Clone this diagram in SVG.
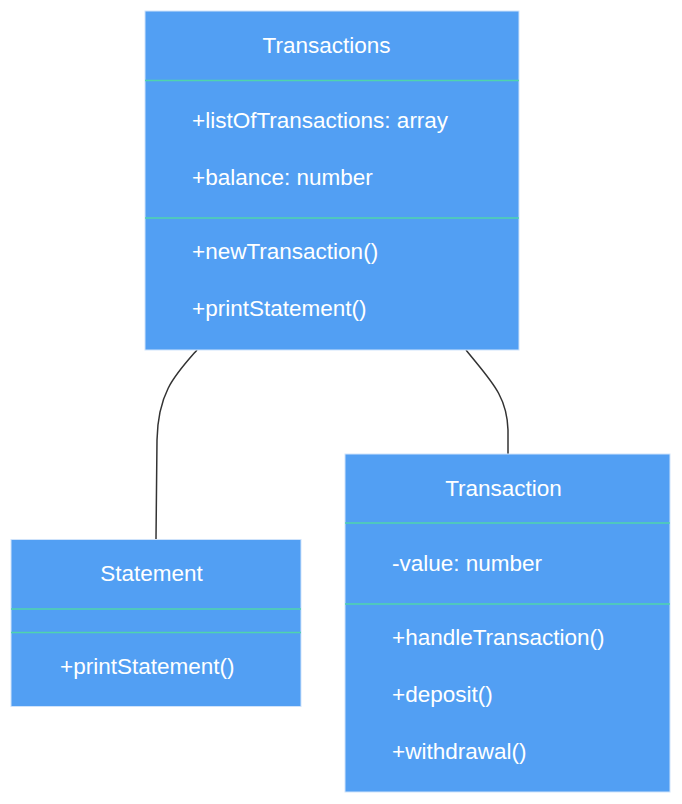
<svg xmlns="http://www.w3.org/2000/svg" width="682" height="804" viewBox="0 0 682 804">
<style>
.box{fill:#529ff3;stroke:#cfe3fb;stroke-width:1}
.div{stroke:#4fd4ad;stroke-width:1.5}
.t{font-family:"Liberation Sans",Arial,sans-serif;font-size:22.5px;fill:#ffffff}
.c{text-anchor:middle}
.edge{fill:none;stroke:#333333;stroke-width:1.5}
</style>
<rect width="682" height="804" fill="#ffffff"/>
<g id="connectors">
<path class="edge" d="M197,350 C175,375 158,392 157,440 L156,539"/>
<path class="edge" d="M466,350 C490,380 507,395 508,430 L508,454"/>
</g>
<g id="Transactions">
<rect class="box" x="145" y="11" width="374" height="339"/>
<line class="div" x1="145" y1="80.5" x2="519" y2="80.5"/>
<line class="div" x1="145" y1="218" x2="519" y2="218"/>
<text class="t c" x="326.5" y="53">Transactions</text>
<text class="t" x="192" y="128">+listOfTransactions: array</text>
<text class="t" x="192" y="185">+balance: number</text>
<text class="t" x="192" y="259">+newTransaction()</text>
<text class="t" x="192" y="316">+printStatement()</text>
</g>
<g id="Statement">
<rect class="box" x="11" y="539.5" width="290" height="167"/>
<line class="div" x1="11" y1="609" x2="301" y2="609"/>
<line class="div" x1="11" y1="632.5" x2="301" y2="632.5"/>
<text class="t c" x="151.5" y="581">Statement</text>
<text class="t" x="60" y="674">+printStatement()</text>
</g>
<g id="Transaction">
<rect class="box" x="345" y="454" width="325" height="338"/>
<line class="div" x1="345" y1="523" x2="670" y2="523"/>
<line class="div" x1="345" y1="604" x2="670" y2="604"/>
<text class="t c" x="503.5" y="496">Transaction</text>
<text class="t" x="392" y="571">-value: number</text>
<text class="t" x="392" y="645">+handleTransaction()</text>
<text class="t" x="392" y="702">+deposit()</text>
<text class="t" x="392" y="759">+withdrawal()</text>
</g>
</svg>
